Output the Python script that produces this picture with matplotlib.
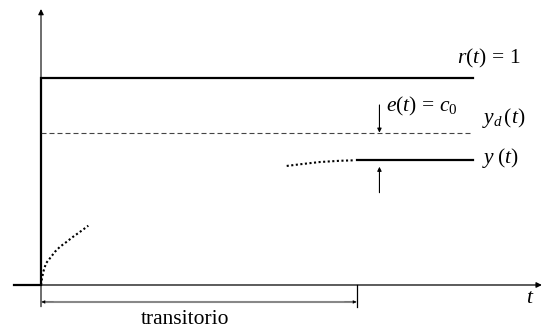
import matplotlib
matplotlib.use("Agg")
import matplotlib.pyplot as plt

plt.rcParams["font.family"] = "Liberation Serif"
plt.rcParams["mathtext.fontset"] = "custom"
plt.rcParams["mathtext.rm"] = "Liberation Serif"
plt.rcParams["mathtext.it"] = "Liberation Serif:italic"

# time scale: transient ends at t = 10
T_PRE = -0.854          # where the plotted reference starts (before the step)
T_SETTLE = 10.0         # end of the transient
T_END = 13.67           # end of the steady-state segments
T_AXIS = 15.85          # tip of the time axis
E_MARK = 10.71          # where the steady-state error is marked

R_LEVEL = 1.0           # reference step r(t) = 1
YD_LEVEL = 0.737        # desired output y_d(t)
YSS_LEVEL = 0.605       # steady-state output y(t)

# start of the response (dotted)
rise_t = [0.0, 0.022, 0.073, 0.158, 0.307, 0.443, 0.601, 0.813, 1.022, 1.288, 1.497]
rise_y = [0.0, 0.024, 0.064, 0.105, 0.134, 0.161, 0.185, 0.209, 0.234, 0.263, 0.287]

# end of the transient approaching the steady state (dotted)
tail_t = [7.775, 8.196, 8.829, 9.462, 9.864]
tail_y = [0.576, 0.584, 0.595, 0.601, 0.603]

fig = plt.figure(figsize=(5.45, 3.29), dpi=100)
ax = fig.add_axes([0, 0, 1, 1])
ax.set_xlim(-1.2975, 15.949)
ax.set_ylim(-0.2129, 1.3788)
ax.axis("off")

# axes with arrow tips
ax.annotate("", xy=(T_AXIS, 0), xytext=(T_PRE, 0),
            arrowprops=dict(arrowstyle="-|>", lw=0.9, color="k",
                            mutation_scale=8, shrinkA=0, shrinkB=0))
ax.annotate("", xy=(0, 1.335), xytext=(0, -0.105),
            arrowprops=dict(arrowstyle="-|>", lw=0.8, color="k",
                            mutation_scale=8, shrinkA=0, shrinkB=0))

# reference step
ax.plot([T_PRE, 0, 0, T_END], [0, 0, R_LEVEL, R_LEVEL], color="k", lw=1.6,
        solid_joinstyle="miter")

# desired output (dashed)
ax.plot([0, T_END], [YD_LEVEL, YD_LEVEL], color="#444444", lw=0.8,
        linestyle=(0, (4.5, 2.7)))

# output: transient pieces dotted, steady state solid
ax.plot(rise_t, rise_y, color="k", lw=1.5, linestyle=(0, (1, 1.2)),
        dash_capstyle="butt")
ax.plot(tail_t, tail_y, color="k", lw=1.5, linestyle=(0, (1, 1.2)),
        dash_capstyle="butt")
ax.plot([T_SETTLE, T_END], [YSS_LEVEL, YSS_LEVEL], color="k", lw=1.6)

# steady-state error marks
ax.annotate("", xy=(E_MARK, YD_LEVEL), xytext=(E_MARK, 0.871),
            arrowprops=dict(arrowstyle="-|>", lw=0.8, color="k",
                            mutation_scale=6, shrinkA=0, shrinkB=0))
ax.annotate("", xy=(E_MARK, 0.572), xytext=(E_MARK, 0.4465),
            arrowprops=dict(arrowstyle="-|>", lw=0.8, color="k",
                            mutation_scale=6, shrinkA=0, shrinkB=0))

# transient duration
ax.plot([T_SETTLE, T_SETTLE], [0, -0.105], color="k", lw=0.9)
ax.plot([0.05, T_SETTLE - 0.05], [-0.082, -0.082], color="#888888", lw=1.5)
ax.annotate("", xy=(0.02, -0.082), xytext=(0.4, -0.082),
            arrowprops=dict(arrowstyle="-|>", lw=0.1, color="k",
                            mutation_scale=6, shrinkA=0, shrinkB=0))
ax.annotate("", xy=(T_SETTLE - 0.02, -0.082), xytext=(T_SETTLE - 0.4, -0.082),
            arrowprops=dict(arrowstyle="-|>", lw=0.1, color="k",
                            mutation_scale=6, shrinkA=0, shrinkB=0))

fs = 15.5
ax.text(13.16, 1.098, r"$r(t)\,=\,1$", fontsize=fs, ha="left", va="center")
ax.text(10.92, 0.866, r"$e(t)\,=\,c_\mathit{0}$", fontsize=fs, ha="left", va="center")
ax.text(13.95, 0.808, r"$y_d\,(t)$", fontsize=fs, ha="left", va="center")
ax.text(13.95, 0.614, r"$y\;(t)$", fontsize=fs, ha="left", va="center")
ax.text(15.47, -0.063, r"$t$", fontsize=fs, ha="center", va="center")
ax.text(4.56, -0.169, "transitorio", fontsize=fs, ha="center", va="center")

fig.savefig("out.png", dpi=100)
